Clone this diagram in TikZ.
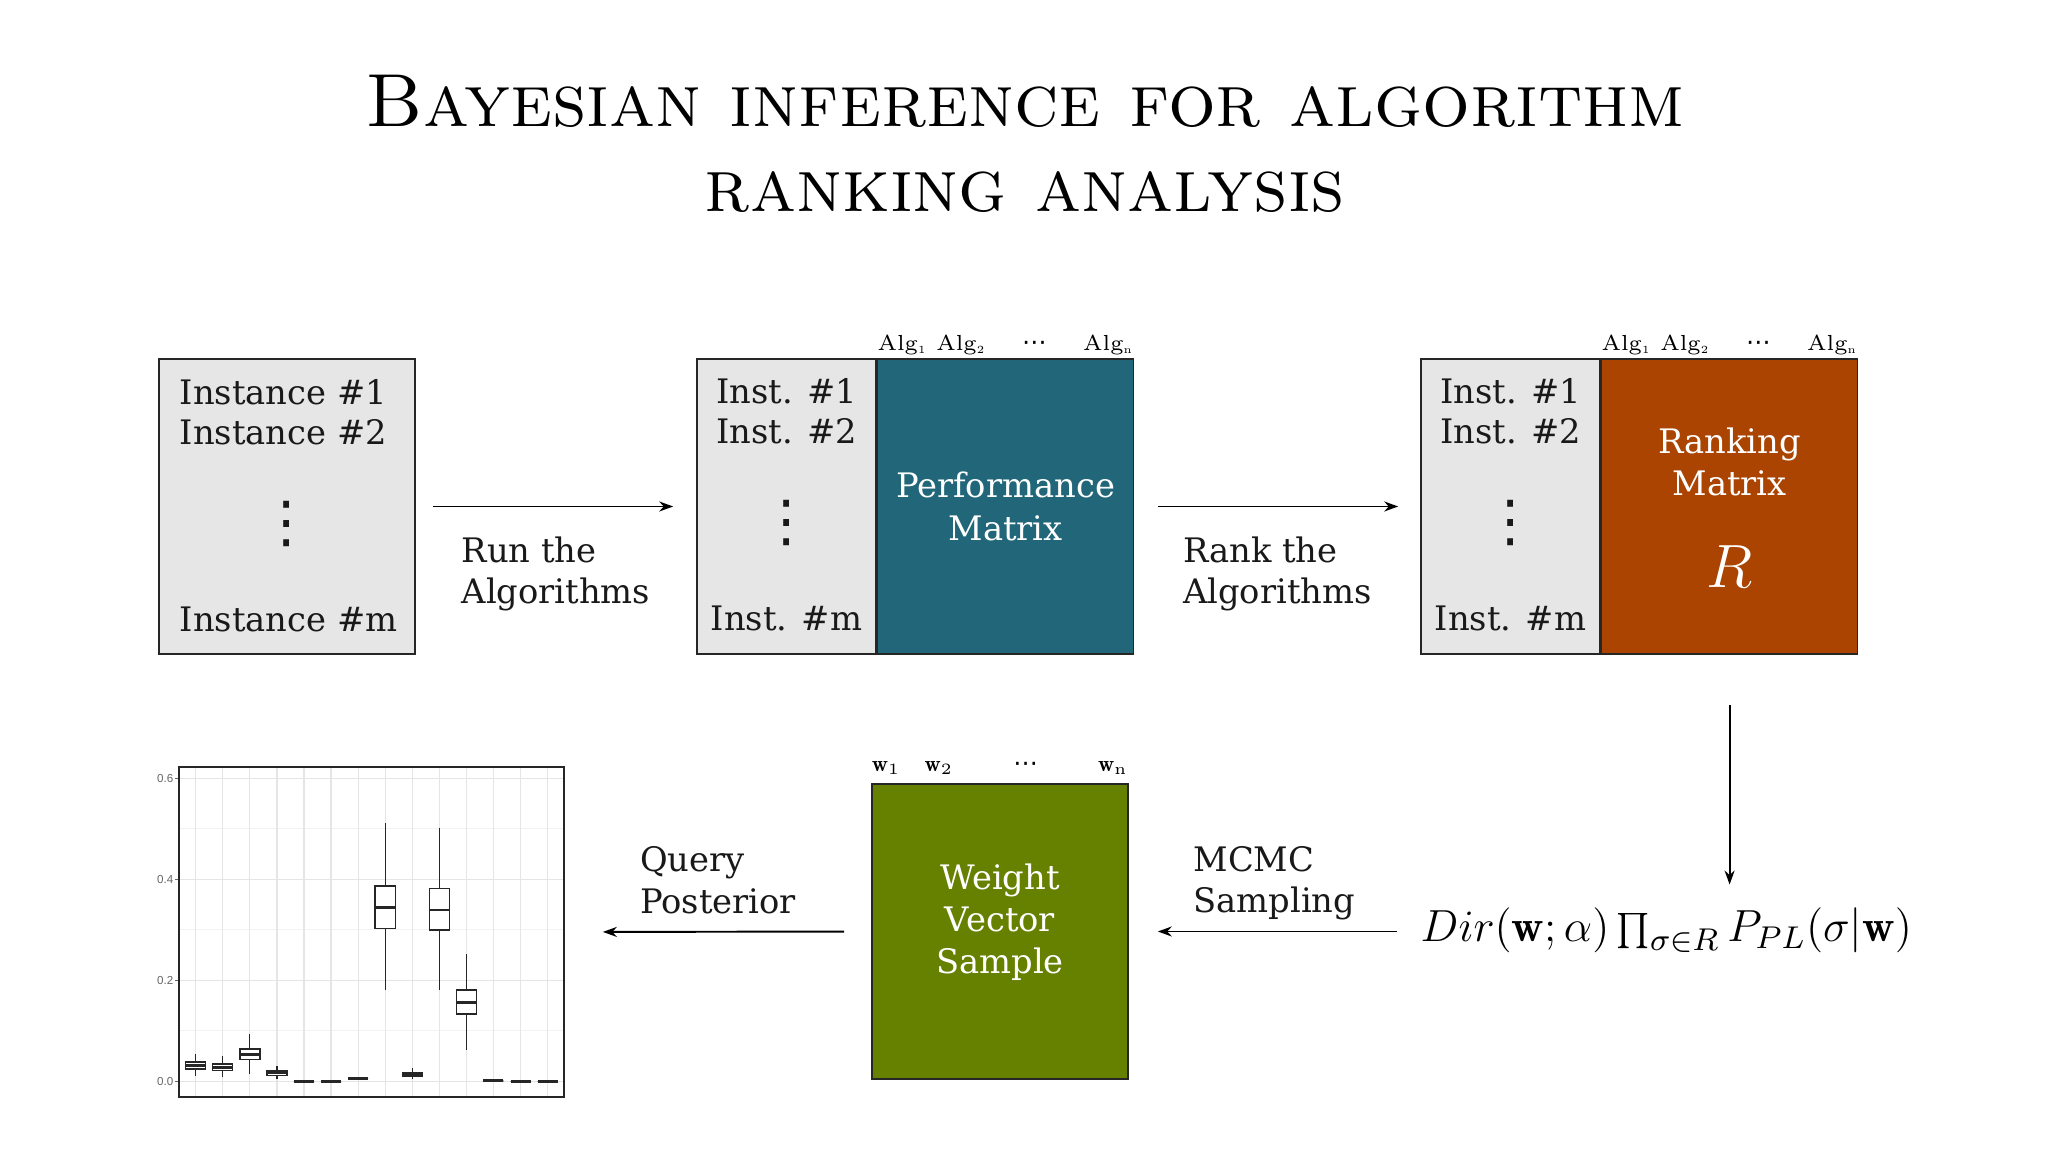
\RequirePackage{fix-cm}
\documentclass[tikz,border=0pt]{standalone}
\usepackage{fontspec}
\usepackage{xcolor}
\usepackage{tikz}
\usetikzlibrary{arrows.meta,positioning}
\newfontfamily\boxfont{DejaVu Serif}
\newfontfamily\dotfont{DejaVu Sans}
\newfontfamily\tickfont{Liberation Sans}
\definecolor{perfteal}{HTML}{22667A}
\definecolor{rankrust}{HTML}{AA4400}
\definecolor{weightolive}{HTML}{668000}
\definecolor{instgray}{HTML}{E6E6E6}

\begin{document}
\begin{tikzpicture}[
  x=0.1mm, y=-0.1mm,
  colbox/.style={draw=black!85, fill=instgray, line width=0.45pt, inner sep=0pt,
                 minimum width=17.9mm, minimum height=29.5mm},
  matbox/.style={draw=black!85, line width=0.45pt, inner sep=0pt,
                 minimum width=25.6mm, minimum height=29.5mm},
  boxtxt/.style={font=\boxfont\fontsize{9.6}{11.4}\selectfont, inner sep=0pt,
                 text=black!90},
  mattxt/.style={font=\boxfont\fontsize{9.6}{12}\selectfont, inner sep=0pt,
                 text=white, align=center},
  vdts/.style={font=\dotfont\fontsize{16}{16}\selectfont, inner sep=0pt,
               text=black!90},
  hdr/.style={font=\fontsize{6.2}{7}\selectfont, inner sep=0pt, anchor=base west},
  flow/.style={-{Stealth[length=1.4mm, width=1.0mm]}, line width=0.55pt},
  flowlbl/.style={font=\boxfont\fontsize{9.6}{11.9}\selectfont, align=left,
                  inner sep=0pt, text=black!90, execute at end node=\strut},
  gridmaj/.style={black!10, line width=0.35pt},
  gridmin/.style={black!5, line width=0.25pt},
  whisk/.style={black!85, line width=0.35pt},
  bxp/.style={draw=black!85, fill=white, line width=0.4pt},
  med/.style={black!85, line width=0.75pt},
  ticklbl/.style={font=\tickfont\fontsize{3.3}{4}\selectfont, text=black!60,
                  inner sep=0pt, anchor=east}
]
  \path[use as bounding box] (0,0) rectangle (2048,1152);

  % title
  \node[font=\fontsize{21.4}{24}\selectfont, anchor=base] (title1) at (1025,127)
    {\textsc{Bayesian inference for algorithm}};
  \node[font=\fontsize{21.4}{24}\selectfont, anchor=base] (title2) at (1025,212)
    {\textsc{ranking analysis}};

  % instances
  \node[colbox, minimum width=25.6mm] (inst) at (287,506.5) {};
  \node[boxtxt, align=left, anchor=west] (insttop) at (179,412)
    {Instance \#1\\Instance \#2};
  \node[vdts] (instdots) at (287,524) {⋮};
  \node[boxtxt, anchor=west] (instm) at (179,619) {Instance \#m};

  % performance and ranking matrices
  \node[colbox] (perfinst) at (786.5,506.5) {};
  \node[matbox, fill=perfteal, right=0pt of perfinst] (perf) {};
  \node[colbox] (rankinst) at (1510.5,506.5) {};
  \node[matbox, fill=rankrust, right=0pt of rankinst] (rank) {};
  \foreach \b in {perfinst,rankinst} {
    \node[boxtxt, align=center] (\b-top) at ([yshift=-5.3mm]\b.north)
      {Inst. \#1\\Inst. \#2};
    \node[vdts] (\b-dots) at ([yshift=-16.5mm]\b.north) {⋮};
    \node[boxtxt] (\b-m) at ([yshift=-26mm]\b.north) {Inst. \#m};
  }
  \foreach \b in {perf,rank}
    \node[hdr] (\b-algs) at ([yshift=0.8mm]\b.north west)
      {\hbox to 25.6mm{Alg$_{\scriptscriptstyle 1}$ Alg$_{\scriptscriptstyle 2}$\hfill
       {\dotfont\fontsize{7}{7}\selectfont ⋯}\hfill Alg$_{\scriptscriptstyle\mathrm{n}}$}};
  \node[mattxt] (perflbl) at (perf) {Performance\\Matrix};
  \node[mattxt] (ranklbl) at ([yshift=4.45mm]rank) {Ranking\\Matrix};
  \node[mattxt, font=\fontsize{17.4}{20}\selectfont] (rankR)
    at ([yshift=-6mm]rank) {$R$};

  % weights
  \node[matbox, fill=weightolive] (wvec) at (1000,931.5) {};
  \node[mattxt] (wlbl) at ([yshift=0.95mm]wvec) {Weight\\Vector\\Sample};
  \node[hdr, font=\fontsize{6.4}{7}\selectfont] (wvec-ws)
    at ([yshift=1.2mm]wvec.north west)
    {\hbox to 25.6mm{$\mathbf{w}_1$\hspace{2.4mm}$\mathbf{w}_2$\hfill
     {\dotfont\fontsize{7}{7}\selectfont ⋯}\hfill$\mathbf{w}_{\mathrm{n}}$}};

  % posterior
  \node[anchor=base west, inner sep=0pt, font=\fontsize{12.8}{15}\selectfont]
    (post) at (1420,942)
    {$Dir(\mathbf{w};\alpha)\prod_{\sigma\in R}P_{PL}(\sigma|\mathbf{w})$};

  % box plot of the posterior weights
  \begin{scope}[shift={(168.63,1081.3)}, xscale=27.07, yscale=-505]
    \foreach \v in {0.1,0.3,0.5}
      \draw[gridmin] (0.383,\v) -- (14.6,\v);
    \foreach \v in {0,0.2,0.4,0.6}
      \draw[gridmaj] (0.383,\v) -- (14.6,\v);
    \foreach \k in {1,...,14}
      \draw[gridmaj] (\k,-0.031) -- (\k,0.622);
    \foreach \v/\n in {0.0/t0,0.2/t2,0.4/t4,0.6/t6} {
      \draw[black!60, line width=0.3pt] (0.383,\v) -- (0.25,\v);
      \node[ticklbl] (\n) at (0.2,\v) {\v};
    }
    \foreach \k/\wl/\bl/\md/\bh/\wh in {
        1/0.011/0.024/0.031/0.038/0.054, 2/0.008/0.021/0.027/0.034/0.050,
        3/0.015/0.043/0.053/0.064/0.094, 4/0.004/0.012/0.017/0.020/0.030,
        5/0/0/0/0/0, 6/0/0/0/0/0, 7/0.006/0.006/0.006/0.006/0.006,
        8/0.180/0.303/0.344/0.387/0.512, 9/0.004/0.010/0.014/0.018/0.026,
        10/0.181/0.300/0.339/0.382/0.501, 11/0.062/0.133/0.156/0.181/0.252,
        12/0.001/0.001/0.001/0.001/0.001, 13/0/0/0/0/0, 14/0/0/0/0/0} {
      \draw[whisk] (\k,\wl) -- (\k,\bl) (\k,\bh) -- (\k,\wh);
      \draw[bxp] (\k-0.37,\bl) rectangle (\k+0.37,\bh);
      \draw[med] (\k-0.37,\md) -- (\k+0.37,\md);
    }
  \end{scope}
  \node[draw=black!85, line width=0.5pt, inner sep=0pt, minimum width=38.5mm,
        minimum height=33mm] (plot) at (371.5,932) {};

  % flow
  \draw[flow, shorten <=1.7mm, shorten >=2.3mm] (inst)
    -- node[flowlbl, below=2.9mm] (runlbl) {Run the\\Algorithms} (perfinst);
  \draw[flow, shorten <=2.4mm, shorten >=2.2mm] (perf)
    -- node[flowlbl, below=2.9mm] (rankrun) {Rank the\\Algorithms} (rankinst);
  \draw[flow, shorten <=5mm, shorten >=2.3mm] (rank.south) -- (rank.south |- post.north);
  \draw[flow, shorten <=2.3mm, shorten >=2.9mm] (post.west |- wvec.east)
    -- node[flowlbl, above=0.5mm] (mcmclbl) {MCMC\\Sampling} (wvec.east);
  \draw[flow, shorten <=2.7mm, shorten >=3.8mm] (wvec.west)
    -- node[flowlbl, above=0.5mm] (querylbl) {Query\\Posterior} (plot.east);
\end{tikzpicture}
\end{document}
